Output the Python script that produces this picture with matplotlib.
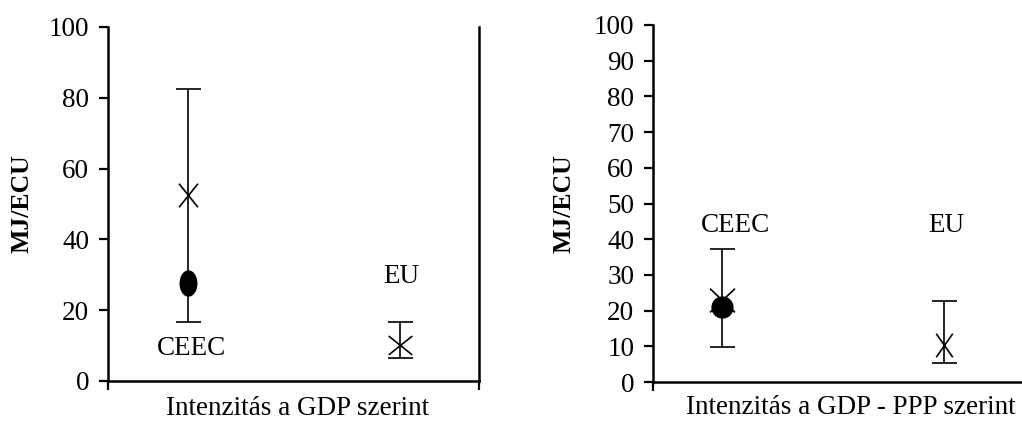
import numpy as np
import matplotlib
matplotlib.use("Agg")
import matplotlib.pyplot as plt
from matplotlib.path import Path

plt.rcParams["font.family"] = ["Liberation Serif", "DejaVu Serif"]

# Energy intensity ranges (MJ/ECU): min, max, mean (x) and median (dot)
groups = ["CEEC", "EU"]

gdp_low = [16.7, 6.6]
gdp_high = [82.5, 16.7]
gdp_cross = [52.5, 10.2]
gdp_dot = [27.8, None]

ppp_low = [9.7, 5.4]
ppp_high = [37.2, 22.7]
ppp_cross = [23.0, 10.4]
ppp_dot = [21.0, None]

FS = 19.5


def x_marker(w, h):
    # two crossing strokes with a chosen aspect ratio
    verts = [(-w, -h), (w, h), (-w, h), (w, -h)]
    codes = [Path.MOVETO, Path.LINETO, Path.MOVETO, Path.LINETO]
    return Path(verts, codes)


def ellipse_marker(w, h):
    t = np.linspace(0, 2 * np.pi, 60)
    return Path(np.column_stack([w * np.cos(t), h * np.sin(t)]), closed=True)


def draw_panel(ax, low, high, cross, dot, cross_shapes, dot_shape, dot_size, xlim, yticks):
    for i in range(len(groups)):
        mid = (low[i] + high[i]) / 2
        ax.errorbar(i, mid, yerr=[[mid - low[i]], [high[i] - mid]], fmt="none",
                    ecolor="black", elinewidth=1.2, capsize=9, capthick=1.2)
        if dot[i] is not None:
            ax.plot(i, dot[i], marker=dot_shape, color="black", markersize=dot_size,
                    linestyle="none")
        size, shape = cross_shapes[i]
        ax.plot(i, cross[i], marker=shape, color="black", markersize=size,
                markeredgewidth=1.2, markerfacecolor="none", linestyle="none")

    ax.set_xlim(*xlim)
    ax.set_ylim(0, 100)
    ax.set_yticks(yticks)
    ax.set_xticks(xlim)
    ax.set_xticklabels([])
    ax.tick_params(axis="y", direction="out", length=6.5, width=1.6, labelsize=FS, pad=7)
    ax.tick_params(axis="x", direction="out", length=6.5, width=1.6)
    ax.spines["top"].set_visible(False)
    for s in ["left", "bottom", "right"]:
        ax.spines[s].set_linewidth(1.8)
    ax.set_ylabel("MJ/ECU", fontsize=18.5, fontweight="bold")
    ax.yaxis.label.set_verticalalignment("center")


fig = plt.figure(figsize=(10.22, 4.21), dpi=100)
H = 421.0
W = 1022.0

ax1 = fig.add_axes([108 / W, 1 - 381 / H, 371 / W, 354 / H])
ax2 = fig.add_axes([653 / W, 1 - 382 / H, 371 / W, 357 / H])

draw_panel(ax1, gdp_low, gdp_high, gdp_cross, gdp_dot,
           [(17, x_marker(0.8, 1.0)), (17, x_marker(1.0, 0.8))],
           ellipse_marker(0.66, 1.0), 18, (-0.375, 1.375), np.arange(0, 101, 20))
draw_panel(ax2, ppp_low, ppp_high, ppp_cross, ppp_dot,
           [(18, x_marker(1.0, 0.95)), (17, x_marker(0.7, 1.0))],
           ellipse_marker(0.75, 0.75), 15, (-0.311, 1.361), np.arange(0, 101, 10))
ax2.spines["right"].set_visible(False)

ax1.yaxis.set_label_coords(-0.232, 0.50)
ax2.yaxis.set_label_coords(-0.240, 0.50)

ax1.set_xlabel("Intenzitás a GDP szerint", fontsize=FS)
ax1.xaxis.set_label_coords(0.512, -0.096)
ax1.xaxis.label.set_verticalalignment("baseline")
ax2.set_xlabel("Intenzitás a GDP - PPP szerint", fontsize=FS)
ax2.xaxis.set_label_coords(0.534, -0.090)
ax2.xaxis.label.set_verticalalignment("baseline")

# group names next to the ranges
ax1.text(0.02, 9.3, "CEEC", fontsize=FS, ha="center", va="center")
ax1.text(1.01, 29.4, "EU", fontsize=FS, ha="center", va="center")
ax2.text(0.063, 43.7, "CEEC", fontsize=FS, ha="center", va="center")
ax2.text(1.01, 43.7, "EU", fontsize=FS, ha="center", va="center")

fig.savefig("out.png", dpi=100)
